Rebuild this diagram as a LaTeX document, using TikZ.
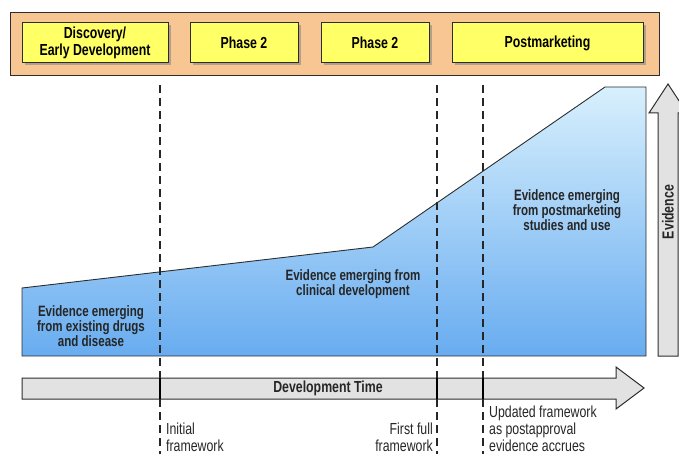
\documentclass[tikz,border=0pt]{standalone}
\usepackage{fontspec}
\setmainfont{Liberation Sans}[FakeStretch=0.77]
\usetikzlibrary{shadows}
\definecolor{band}{RGB}{248,198,146}
\definecolor{boxy}{RGB}{255,255,102}
\definecolor{edge}{RGB}{45,45,45}
\definecolor{bluetop}{RGB}{216,240,253}
\definecolor{bluebot}{RGB}{104,172,240}
\definecolor{arrowgray}{RGB}{226,226,226}
\tikzset{
  phasebox/.style={draw=edge, line width=1pt, fill=boxy,
    drop shadow={shadow xshift=2.5pt, shadow yshift=-2.5pt, opacity=0.55},
    font=\bfseries\fontsize{16}{16.5}\selectfont, align=center, inner sep=0pt,
    minimum height=40pt},
  bluelabel/.style={font=\bfseries\fontsize{15}{13.5}\selectfont, align=center, text=black!85, inner sep=0pt},
  notelabel/.style={font=\fontsize{16}{16.8}\selectfont, inner sep=0pt, text=black!85},
  marker/.style={draw=black!85, line width=1.6pt, dash pattern=on 8pt off 5pt},
  markersolid/.style={draw=black, line width=1.8pt},
  grayarrow/.style={draw=edge, line width=1pt, fill=arrowgray}
}
\begin{document}
\begin{tikzpicture}[x=1pt,y=-1pt]
\useasboundingbox (0,0) rectangle (679,454);

% top band with phases
\path[draw=edge, line width=0.8pt, fill=band] (10,12) rectangle (659,75);
\node[phasebox, minimum width=146pt] (p1) at (95,43) {Discovery/\\Early Development};
\node[phasebox, minimum width=108pt] (p2) at (244,43) {Phase 2};
\node[phasebox, minimum width=108pt] (p3) at (375,43) {Phase 2};
\node[phasebox, minimum width=191pt] (p4) at (547.5,43) {Postmarketing};

% evidence area
\path[draw=edge, line width=0.9pt, top color=bluetop, bottom color=bluebot]
  (22,288) -- (373,247) -- (605,87) -- (646,87) -- (646,356) -- (22,356) -- cycle;

% evidence arrow (vertical)
\path[grayarrow] (658,356) -- (658,113) -- (649,113) -- (668,84) -- (687,113)
  -- (678,113) -- (678,356) -- cycle;
\node[font=\bfseries\fontsize{16}{16}\selectfont, rotate=90, text=black!85] (ev) at (668,212) {Evidence};

% development time arrow
\path[grayarrow] (22,378) -- (616,378) -- (616,367) -- (644,388) -- (616,409)
  -- (616,399) -- (22,399) -- cycle;
\node[font=\bfseries\fontsize{16}{16}\selectfont, text=black!85] (dt) at (328,388) {Development Time};

% milestone markers
\foreach \i/\x in {1/160,2/437,3/483}{
  \coordinate (t\i) at (\x,85);
  \coordinate (u\i) at (\x,378);
  \coordinate (l\i) at (\x,399);
  \coordinate (b\i) at (\x,454);
  \draw[marker] (t\i) -- (u\i);
  \draw[markersolid] (u\i) -- (l\i);
  \draw[marker] (l\i) -- (b\i);
}

% labels inside evidence area
\node[bluelabel] (e1) at (91,326) {Evidence emerging\\from existing drugs\\and disease};
\node[bluelabel] (e2) at (353,284) {Evidence emerging from\\clinical development};
\node[bluelabel] (e3) at (567,210) {Evidence emerging\\from postmarketing\\studies and use};

% milestone notes
\node[notelabel, anchor=north west, align=left] (n1) at (166,423) {Initial\\framework};
\node[notelabel, anchor=north east, align=right] (n2) at (433,423) {First full\\framework};
\node[notelabel, anchor=north west, align=left] (n3) at (489,406) {Updated framework\\as postapproval\\evidence accrues};
\end{tikzpicture}
\end{document}
